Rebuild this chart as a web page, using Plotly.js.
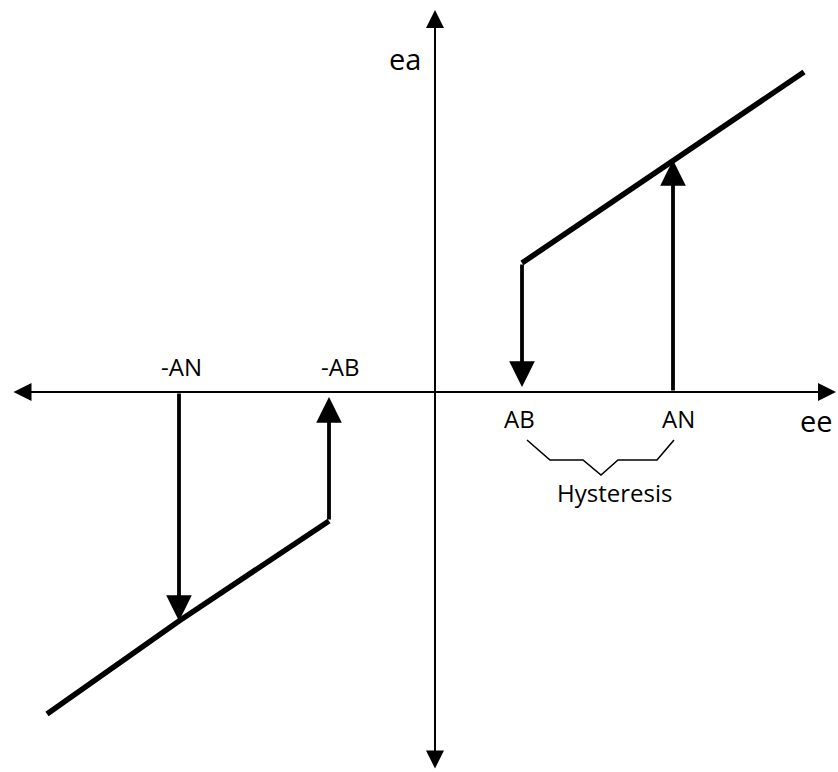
<!DOCTYPE html>
<html>
<head>
<meta charset="utf-8">
<script src="https://cdn.plot.ly/plotly-3.0.1.min.js"></script>
<style>html,body{margin:0;padding:0;background:#fff;}#chart{width:838px;height:772px;}</style>
</head>
<body>
<div id="chart"></div>
<script>
// Threshold values on the ee axis
var thresholdNames = ["-AN", "-AB", "AB", "AN"];
var thresholdValues = [-256, -106, 87, 238];

// Upper branch (ee, ea) : starts at AB, passes AN, continues up-right
var upperEe = [87, 238, 369];
var upperEa = [129, 232, 320];

// Lower branch (ee, ea) : starts at -AB, passes -AN, continues down-left
var lowerEe = [-106, -256, -388];
var lowerEa = [-129, -229, -322];

// Switching arrows: [from ee, from ea, to ee, to ea]
var switchFromEe = [87, 238, -106, -256];
var switchFromEa = [129, 0, -129, 0];
var switchToEa = [5, 232, -5, -229];

// Hysteresis brace (ee, ea)
var braceEe = [92, 115, 148, 166, 183, 222, 239];
var braceEa = [-48, -68, -68, -83, -68, -68, -48];

// Axis extents
var eeMin = -423, eeMax = 401, eaMin = -378, eaMax = 382;

var FONT = "Open Sans, DejaVu Sans, sans-serif";

var traces = [
  {x: upperEe, y: upperEa, mode: "lines", line: {color: "#000", width: 5.5}, hoverinfo: "skip"},
  {x: lowerEe, y: lowerEa, mode: "lines", line: {color: "#000", width: 5.5}, hoverinfo: "skip"},
  {x: braceEe, y: braceEa, mode: "lines", line: {color: "#000", width: 1.6}, hoverinfo: "skip"}
];

var annotations = [];
// Axes as double-headed arrows
annotations.push({x: eeMax, y: 0, ax: eeMin, ay: 0, xref: "x", yref: "y", axref: "x", ayref: "y",
  showarrow: true, arrowhead: 2, startarrowhead: 2, arrowside: "end+start", arrowwidth: 2, arrowsize: 1.8, startarrowsize: 1.8, arrowcolor: "#000", text: "", standoff: 0, startstandoff: 0});
annotations.push({x: 0, y: eaMax, ax: 0, ay: eaMin, xref: "x", yref: "y", axref: "x", ayref: "y",
  showarrow: true, arrowhead: 2, startarrowhead: 2, arrowside: "end+start", arrowwidth: 2, arrowsize: 1.8, startarrowsize: 1.8, arrowcolor: "#000", text: "", standoff: 0, startstandoff: 0});
// Switching arrows
for (var i = 0; i < switchFromEe.length; i++) {
  annotations.push({x: switchFromEe[i], y: switchToEa[i], ax: switchFromEe[i], ay: switchFromEa[i],
    xref: "x", yref: "y", axref: "x", ayref: "y", showarrow: true, arrowhead: 2,
    arrowwidth: 3.8, arrowsize: 1.35, arrowcolor: "#000", text: "", standoff: 0});
}
// Threshold labels
var labelEa = [26, 26, -26, -26];
var labelShift = [2, 11, -3, 5];
for (var j = 0; j < thresholdNames.length; j++) {
  annotations.push({x: thresholdValues[j], y: labelEa[j], xshift: labelShift[j], xref: "x", yref: "y", showarrow: false,
    text: thresholdNames[j], font: {family: FONT, size: 24, color: "#000"}});
}
annotations.push({x: -30, y: 334, xref: "x", yref: "y", showarrow: false, text: "ea", font: {family: FONT, size: 29, color: "#000"}});
annotations.push({x: 381, y: -28, xref: "x", yref: "y", showarrow: false, text: "ee", font: {family: FONT, size: 29, color: "#000"}});
annotations.push({x: 179, y: -100, xref: "x", yref: "y", showarrow: false, text: "Hysteresis", font: {family: FONT, size: 24, color: "#000"}});

var layout = {
  width: 838, height: 772,
  margin: {l: 0, r: 0, t: 0, b: 0},
  paper_bgcolor: "#fff", plot_bgcolor: "#fff",
  showlegend: false,
  xaxis: {range: [-435, 403], visible: false, fixedrange: true},
  yaxis: {range: [-380, 392], visible: false, fixedrange: true},
  annotations: annotations
};

Plotly.newPlot("chart", traces, layout, {staticPlot: true, displayModeBar: false});
</script>
</body>
</html>
